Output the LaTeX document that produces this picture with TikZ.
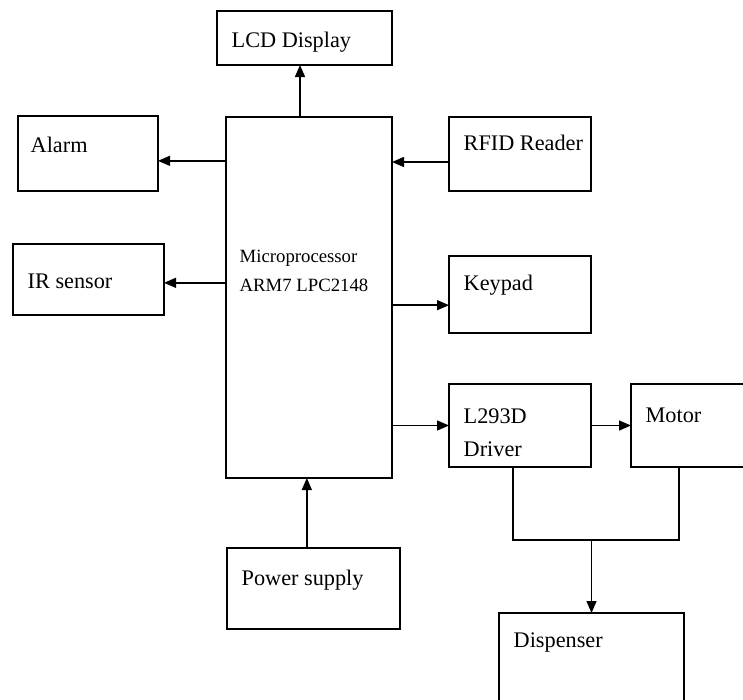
\documentclass[tikz,border=0pt]{standalone}
\usepackage{fontspec}
\setmainfont{Liberation Serif}
\usetikzlibrary{arrows.meta}

\tikzset{
  box/.style 2 args={draw, rectangle, anchor=north west, inner sep=0pt, outer sep=0pt,
    minimum width=#1, minimum height=#2},
  tag/.style={anchor=base west, inner sep=0pt, align=left,
    font=\fontsize{19}{23}\selectfont, xshift=0.42cm, yshift=-1.08cm},
}

\begin{document}
\begin{tikzpicture}[x=0.03cm, y=-0.03cm, line width=1.2pt,
  >={Triangle[length=0.36cm, width=0.3cm]}]

\useasboundingbox (0,0) rectangle (743,700);
\clip (0,0) rectangle (743,700);

\node[box={4.98cm}{10.83cm}, label={[tag, font=\fontsize{16}{24}\selectfont, xshift=-0.03cm, yshift=-4.14cm]north west:Microprocessor\\ARM7 LPC2148}] (micro) at (226,117) {};
\node[box={5.25cm}{1.62cm}, label={[tag]north west:LCD Display}] (lcd) at (217,11) {};
\node[box={4.2cm}{2.25cm}, label={[tag, xshift=-0.06cm]north west:Alarm}] (alarm) at (18,116) {};
\node[box={4.53cm}{2.13cm}, label={[tag, yshift=-0.24cm]north west:IR sensor}] (ir) at (13,244) {};
\node[box={4.26cm}{2.22cm}, label={[tag, yshift=0.09cm]north west:RFID Reader}] (rfid) at (449,117) {};
\node[box={4.26cm}{2.31cm}, label={[tag, yshift=0.06cm]north west:Keypad}] (keypad) at (449,256) {};
\node[box={4.26cm}{2.49cm}, label={[tag, yshift=-1.08cm]north west:L293D\\[5pt]Driver}] (driver) at (449,384) {};
\node[box={3.9cm}{2.49cm}, label={[tag, yshift=-0.06cm]north west:Motor}] (motor) at (631,384) {};
\node[box={5.19cm}{2.43cm}, label={[tag, yshift=-0.03cm]north west:Power supply}] (power) at (227,548) {};
\node[box={5.55cm}{3.6cm}, label={[tag, yshift=0.06cm]north west:Dispenser}] (disp) at (499,613) {};

\coordinate (join) at ([yshift=-2.19cm]driver.south -| disp.north);

\draw[->] ([xshift=-0.27cm]micro.north) -- ([xshift=-0.27cm]micro.north |- lcd.south);
\draw[->] ([yshift=-0.22cm]alarm.east -| micro.west) -- ([yshift=-0.22cm]alarm.east);
\draw[->] ([yshift=-0.24cm]rfid.west) -- ([yshift=-0.24cm]rfid.west -| micro.east);
\draw[->] ([yshift=-0.1cm]ir.east -| micro.west) -- ([yshift=-0.1cm]ir.east);
\draw[->] ([yshift=-0.32cm]keypad.west -| micro.east) -- ([yshift=-0.32cm]keypad.west);
\draw[->] (driver.west -| micro.east) -- (driver.west);
\draw[->] (driver) -- (motor);
\draw[->] ([xshift=-0.2cm]power.north) -- ([xshift=-0.2cm]power.north |- micro.south);
\draw ([xshift=-0.21cm]driver.south) |- (join) -| ([xshift=-0.51cm]motor.south);
\draw[->] (join) -- (disp);

\end{tikzpicture}
\end{document}
